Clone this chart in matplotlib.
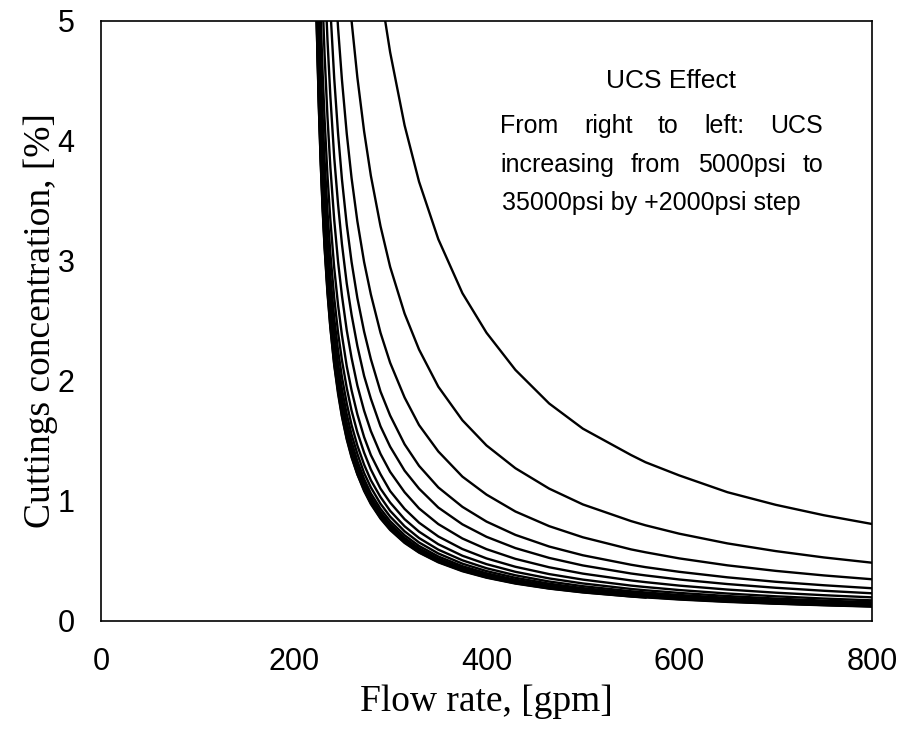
# Cuttings concentration vs flow rate, UCS effect
import numpy as np
import matplotlib
matplotlib.use('Agg')
import matplotlib.pyplot as plt

nan = np.nan

# Flow rate, gpm
flow = [220, 222, 224, 226, 228, 230, 232, 235, 238, 242, 246, 250, 255, 260, 266, 273, 280,
        290, 300, 315, 330, 350, 375, 400, 430, 465, 500, 550, 565, 600, 650, 700, 750, 800]

# Cuttings concentration, % (one list per UCS value, psi)
c5000 = [nan] * 17 + [5.25, 4.74, 4.13, 3.66, 3.18, 2.73, 2.4, 2.09, 1.81, 1.6, 1.38, 1.32, 1.21,
                      1.07, 0.965, 0.878, 0.805]
c7000 = [nan] * 13 + [5, 4.53, 4.08, 3.71, 3.29, 2.95, 2.56, 2.26, 1.95, 1.67, 1.46, 1.27, 1.1,
                      0.968, 0.829, 0.794, 0.724, 0.643, 0.579, 0.526, 0.482]
c9000 = [nan] * 9 + [5.47, 4.94, 4.51, 4.06, 3.69, 3.33, 2.99, 2.72, 2.4, 2.15, 1.86, 1.63, 1.41,
                     1.2, 1.05, 0.909, 0.787, 0.694, 0.593, 0.569, 0.518, 0.46, 0.414, 0.376, 0.344]
c11000 = [nan] * 8 + [5.1, 4.52, 4.06, 3.68, 3.3, 2.99, 2.69, 2.41, 2.18, 1.91, 1.71, 1.47, 1.29,
                      1.11, 0.948, 0.825, 0.714, 0.617, 0.544, 0.465, 0.445, 0.406, 0.36, 0.323,
                      0.294, 0.269]
c13000 = [nan] * 6 + [5.42, 4.84, 4.37, 3.86, 3.47, 3.14, 2.81, 2.55, 2.29, 2.04, 1.85, 1.62, 1.45,
                      1.25, 1.1, 0.942, 0.802, 0.698, 0.604, 0.522, 0.459, 0.392, 0.376, 0.342,
                      0.304, 0.273, 0.248, 0.227]
c15000 = [nan] * 5 + [5.15, 4.72, 4.2, 3.78, 3.34, 2.99, 2.71, 2.42, 2.19, 1.96, 1.75, 1.58, 1.39,
                      1.24, 1.07, 0.935, 0.804, 0.684, 0.595, 0.514, 0.444, 0.391, 0.334, 0.32,
                      0.291, 0.258, 0.232, 0.211, 0.193]
c17000 = [nan] * 4 + [5.02, 4.56, 4.18, 3.71, 3.34, 2.94, 2.63, 2.38, 2.12, 1.92, 1.72, 1.53, 1.38,
                      1.22, 1.08, 0.931, 0.816, 0.701, 0.596, 0.518, 0.448, 0.387, 0.341, 0.291,
                      0.279, 0.254, 0.225, 0.202, 0.183, 0.168]
c19000 = [nan] * 3 + [5.17, 4.63, 4.2, 3.84, 3.41, 3.06, 2.69, 2.4, 2.17, 1.94, 1.75, 1.57, 1.4,
                      1.26, 1.1, 0.984, 0.845, 0.741, 0.636, 0.54, 0.47, 0.406, 0.351, 0.309,
                      0.263, 0.252, 0.23, 0.204, 0.183, 0.166, 0.152]
c21000 = [nan] * 2 + [5.55, 4.9, 4.38, 3.97, 3.62, 3.2, 2.87, 2.52, 2.25, 2.03, 1.81, 1.63, 1.46,
                      1.3, 1.17, 1.03, 0.915, 0.786, 0.688, 0.591, 0.502, 0.436, 0.377, 0.325,
                      0.286, 0.244, 0.234, 0.213, 0.189, 0.17, 0.154, 0.141]
c23000 = [nan] * 2 + [5.35, 4.71, 4.2, 3.8, 3.46, 3.06, 2.74, 2.4, 2.14, 1.93, 1.72, 1.55, 1.39,
                      1.23, 1.11, 0.974, 0.867, 0.744, 0.651, 0.559, 0.474, 0.412, 0.356, 0.307,
                      0.27, 0.231, 0.221, 0.201, 0.178, 0.16, 0.145, 0.133]
c25000 = [nan] * 2 + [5.17, 4.55, 4.05, 3.66, 3.33, 2.94, 2.63, 2.31, 2.05, 1.85, 1.65, 1.49, 1.33,
                      1.18, 1.06, 0.932, 0.829, 0.711, 0.622, 0.534, 0.453, 0.394, 0.34, 0.294,
                      0.258, 0.22, 0.211, 0.192, 0.17, 0.153, 0.139, 0.127]
c27000 = [nan] * 2 + [5.08, 4.45, 3.97, 3.58, 3.26, 2.87, 2.57, 2.25, 2, 1.8, 1.6, 1.44, 1.29,
                      1.15, 1.03, 0.904, 0.804, 0.689, 0.603, 0.517, 0.439, 0.382, 0.33, 0.284,
                      0.25, 0.213, 0.204, 0.186, 0.165, 0.148, 0.134, 0.123]
c29000 = [nan, nan, 5.02, 4.4, 3.91, 3.52, 3.2, 2.82, 2.52, 2.21, 1.96, 1.77, 1.57, 1.41, 1.26,
          1.12, 1.01, 0.884, 0.786, 0.674, 0.59, 0.505, 0.429, 0.372, 0.322, 0.278, 0.244, 0.208,
          0.199, 0.181, 0.161, 0.144, 0.131, 0.12]
c31000 = [nan, 5.8, 4.97, 4.35, 3.87, 3.48, 3.16, 2.78, 2.49, 2.17, 1.93, 1.74, 1.55, 1.39, 1.24,
          1.1, 0.994, 0.87, 0.773, 0.663, 0.58, 0.497, 0.422, 0.366, 0.316, 0.273, 0.24, 0.205,
          0.196, 0.178, 0.158, 0.142, 0.129, 0.118]
c33000 = [nan, 5.75, 4.92, 4.3, 3.82, 3.44, 3.12, 2.75, 2.45, 2.14, 1.91, 1.71, 1.52, 1.37, 1.22,
          1.09, 0.979, 0.856, 0.761, 0.652, 0.57, 0.489, 0.415, 0.36, 0.311, 0.268, 0.236, 0.201,
          0.193, 0.175, 0.155, 0.14, 0.127, 0.116]
c35000 = [nan, 5.75, 4.91, 4.29, 3.81, 3.42, 3.11, 2.73, 2.44, 2.13, 1.89, 1.7, 1.51, 1.36, 1.22,
          1.08, 0.971, 0.85, 0.755, 0.647, 0.566, 0.485, 0.411, 0.357, 0.308, 0.266, 0.234, 0.2,
          0.191, nan, nan, nan, nan, nan]

series = [c5000, c7000, c9000, c11000, c13000, c15000, c17000, c19000,
          c21000, c23000, c25000, c27000, c29000, c31000, c33000, c35000]

fig = plt.figure(figsize=(9.04, 7.32), dpi=100)
ax = fig.add_axes([101 / 904, 1 - 620.5 / 732, 771 / 904, 599.5 / 732])
for c in series:
    ax.plot(flow, c, color='black', lw=1.7)

ax.set_xlim(0, 800)
ax.set_ylim(0, 5)
ax.set_xticks([0, 200, 400, 600, 800])
ax.set_yticks([0, 1, 2, 3, 4, 5])
ax.tick_params(length=0, labelsize=22, pad=19)
for lab in ax.get_xticklabels() + ax.get_yticklabels():
    lab.set_fontfamily('Liberation Sans')
for s in ax.spines.values():
    s.set_linewidth(1.2)
ax.set_xlabel('Flow rate, [gpm]', fontfamily='Liberation Serif', fontsize=27)
ax.set_ylabel('Cuttings concentration, [%]', fontfamily='Liberation Serif', fontsize=27)
ax.xaxis.set_label_coords(0.5, -0.106)
ax.yaxis.set_label_coords(-0.056, 0.5)

# annotation, justified like in the original text box
renderer = fig.canvas.get_renderer()

def justify(words, y, left, right, size=18):
    texts = [fig.text(0, 1 - y / 732, w, va='baseline', fontsize=size,
                      fontfamily='Liberation Sans') for w in words]
    widths = [t.get_window_extent(renderer).width for t in texts]
    gap = (right - left - sum(widths)) / (len(words) - 1)
    x = left
    for t, w in zip(texts, widths):
        t.set_x(x / 904)
        x += w + gap

fig.text(671 / 904, 1 - 88 / 732, 'UCS Effect', ha='center', va='baseline', fontsize=19,
         fontfamily='Liberation Sans')
justify(['From', 'right', 'to', 'left:', 'UCS'], 133, 500, 823)
justify(['increasing', 'from', '5000psi', 'to'], 172, 500, 823)
fig.text(502 / 904, 1 - 210 / 732, '35000psi by +2000psi step', va='baseline', fontsize=18,
         fontfamily='Liberation Sans')

fig.savefig('out.png')
